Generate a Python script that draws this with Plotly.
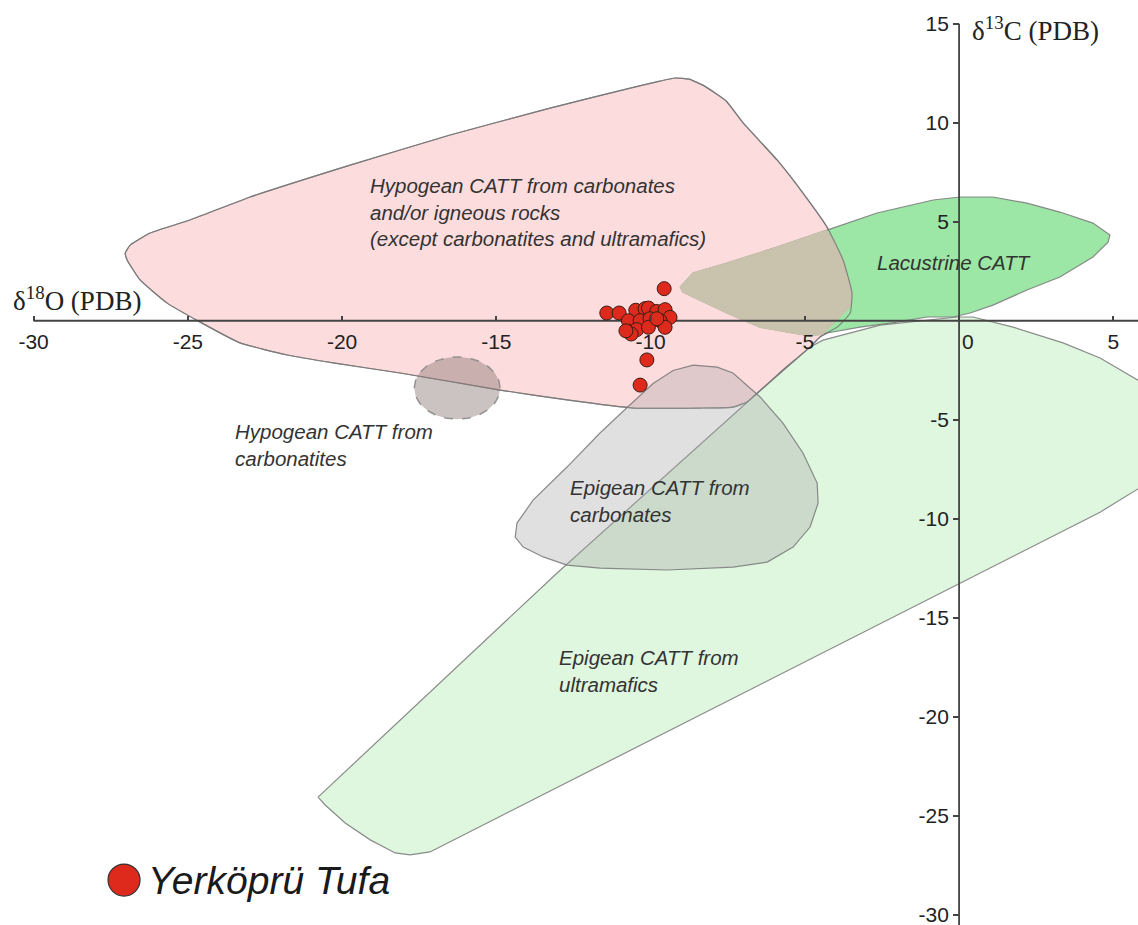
import numpy as np
import plotly.graph_objects as go

# ---------------------------------------------------------------------------
# Data: δ18O / δ13C (‰ PDB)
# ---------------------------------------------------------------------------
tufa_d18O = [-9.56, -11.42, -11.02, -10.48, -10.18, -10.07, -9.80, -9.53, -9.37,
             -10.72, -10.34, -10.02, -9.69, -10.72, -10.45, -10.07, -9.53, -9.80,
             -10.63, -10.80, -10.12, -10.34]
tufa_d13C = [1.62, 0.39, 0.39, 0.53, 0.61, 0.64, 0.47, 0.56, 0.17,
             0.00, 0.00, 0.10, 0.00, -0.54, -0.45, -0.33, -0.33, 0.10,
             -0.67, -0.51, -1.98, -3.25]

# Field boundaries (δ18O, δ13C)
hypogean_O = [-27.03, -26.87, -26.22, -24.93, -22.98, -19.74, -16.50, -13.26, -10.66,
              -9.70, -9.20, -8.75, -8.25, -7.55, -7.00, -5.90, -5.06, -4.28, -3.76, -3.47,
              -3.53, -3.95, -4.51, -4.83, -5.71, -6.68, -6.87, -7.33, -8.40, -10.57,
              -12.71, -14.88, -18.12, -20.29, -21.78, -23.31, -24.60, -25.67, -26.55,
              -26.97]
hypogean_C = [3.42, 3.82, 4.43, 5.09, 6.25, 7.86, 9.38, 10.74, 11.75,
              12.10, 12.26, 12.20, 11.85, 11.10, 9.99, 8.12, 6.45, 4.73, 3.07, 1.40,
              0.39, -0.32, -0.82, -1.33, -2.49, -3.85, -4.10, -4.36, -4.41, -4.41,
              -4.00, -3.50, -2.64, -2.13, -1.73, -1.12, -0.07, 0.89, 2.06,
              3.07]

lacustrine_O = [-9.04, -8.62, -7.52, -5.90, -4.28, -2.66, -0.84, 0.03, 1.10, 2.20,
                3.27, 4.34, 4.89, 4.83, 4.34, 3.27, 2.20, 1.10, 0.36, -0.19,
                -1.04, -2.01, -3.21, -4.28, -4.83, -5.38, -6.45, -7.52, -8.40, -8.95]
lacustrine_C = [1.70, 2.41, 2.91, 3.72, 4.58, 5.44, 6.10, 6.25, 6.25, 5.94,
                5.49, 4.93, 4.33, 3.97, 3.22, 2.21, 1.55, 0.79, 0.39, 0.19,
                0.19, -0.07, -0.32, -0.62, -0.77, -0.62, -0.32, 0.39, 1.05, 1.45]

ultramafic_O = [-20.78, -20.55, -19.90, -19.09, -18.28, -17.80, -17.15, -11.64, -5.15,
                0.00, 4.57, 6.52, 7.33, 7.00, 5.80, 4.57, 3.37, 1.75, 0.45, -0.06,
                -2.56, -4.41, -4.83, -6.68, -13.03]
ultramafic_C = [-24.06, -24.46, -25.37, -26.22, -26.88, -26.98, -26.83, -22.48, -17.38,
                -13.30, -9.67, -7.80, -5.52, -4.01, -3.00, -1.88, -1.12, -0.32, 0.19, 0.19,
                -0.22, -0.98, -1.33, -3.85, -12.74]

epigean_carb_O = [-8.62, -7.84, -7.33, -6.45, -5.71, -5.06, -4.60, -4.57, -4.83, -5.38,
                  -6.22, -7.33, -9.47, -11.64, -12.71, -13.48, -14.13, -14.39, -14.33,
                  -13.81, -12.71, -11.64, -10.76, -9.92, -9.27]
epigean_carb_C = [-2.24, -2.34, -2.64, -3.85, -5.17, -6.68, -8.20, -9.21, -10.42, -11.43,
                  -12.19, -12.44, -12.59, -12.49, -12.34, -11.93, -11.43, -10.93, -10.22,
                  -9.06, -7.39, -5.67, -4.38, -3.17, -2.51]

# Carbonatite field: centre and half-widths (δ18O, δ13C)
carbonatite_centre = [-16.27, -3.40]
carbonatite_radius = [1.39, 1.57]

x_ticks = [-30, -25, -20, -15, -10, -5, 0, 5]
x_ticktext = ["-30", "-25", "-20", "-15", "-10", "-5", "\u00a0\u00a0\u00a00", "5"]
y_ticks = [15, 10, 5, -5, -10, -15, -20, -25, -30]
y_ticktext = ["15", "10", "5", "-5", "-10", "-15", "-20", "-25", "-30"]

x_range = [-31.09, 5.80]
y_range = [-30.52, 16.20]

# ---------------------------------------------------------------------------
# Helpers
# ---------------------------------------------------------------------------
def signed_area(poly):
    s = 0.0
    for i in range(len(poly)):
        x0, y0 = poly[i]
        x1, y1 = poly[(i + 1) % len(poly)]
        s += x0 * y1 - x1 * y0
    return s / 2.0


def clip_polygon(subject, clipper):
    """Sutherland-Hodgman clipping of subject against clipper."""
    if signed_area(clipper) < 0:
        clipper = clipper[::-1]

    def inside(p, a, b):
        return (b[0] - a[0]) * (p[1] - a[1]) - (b[1] - a[1]) * (p[0] - a[0]) >= 0

    def cross_point(s, e, a, b):
        dx1, dy1 = e[0] - s[0], e[1] - s[1]
        dx2, dy2 = b[0] - a[0], b[1] - a[1]
        den = dx1 * dy2 - dy1 * dx2
        t = ((a[0] - s[0]) * dy2 - (a[1] - s[1]) * dx2) / den
        return (s[0] + t * dx1, s[1] + t * dy1)

    out = list(subject)
    for i in range(len(clipper)):
        a, b = clipper[i], clipper[(i + 1) % len(clipper)]
        inp, out = out, []
        if not inp:
            break
        s = inp[-1]
        for e in inp:
            if inside(e, a, b):
                if not inside(s, a, b):
                    out.append(cross_point(s, e, a, b))
                out.append(e)
            elif inside(s, a, b):
                out.append(cross_point(s, e, a, b))
            s = e
    return out


def closed(xs, ys):
    return list(xs) + [xs[0]], list(ys) + [ys[0]]


EDGE = "rgba(120,120,120,0.85)"
TEXT_FONT = dict(family="Liberation Sans, Arial, sans-serif", size=20.5, color="#333333")

fig = go.Figure()

# Hypogean field (carbonates / igneous rocks)
hx, hy = closed(hypogean_O, hypogean_C)
fig.add_trace(go.Scatter(x=hx, y=hy, mode="lines", fill="toself",
                         fillcolor="#fddcdd", line=dict(color=EDGE, width=1.2, shape="spline", smoothing=0.4),
                         hoverinfo="skip", showlegend=False))

# Epigean field (ultramafics)
ux, uy = closed(ultramafic_O, ultramafic_C)
fig.add_trace(go.Scatter(x=ux, y=uy, mode="lines", fill="toself",
                         fillcolor="#dff6df", line=dict(color=EDGE, width=1.2),
                         hoverinfo="skip", showlegend=False))

# Lacustrine field
lx, ly = closed(lacustrine_O, lacustrine_C)
fig.add_trace(go.Scatter(x=lx, y=ly, mode="lines", fill="toself",
                         fillcolor="#9ce6a6", line=dict(color=EDGE, width=1.2),
                         hoverinfo="skip", showlegend=False))

# Overlap of lacustrine and hypogean fields
overlap = clip_polygon(list(zip(lacustrine_O, lacustrine_C)),
                       list(zip(hypogean_O, hypogean_C)))
if overlap:
    ox, oy = closed([p[0] for p in overlap], [p[1] for p in overlap])
    fig.add_trace(go.Scatter(x=ox, y=oy, mode="lines", fill="toself",
                             fillcolor="#c9c2ad", line=dict(color="#c9c2ad", width=1.5),
                             hoverinfo="skip", showlegend=False))

# Hypogean outline redrawn over the overlap
fig.add_trace(go.Scatter(x=hx, y=hy, mode="lines",
                         line=dict(color=EDGE, width=1.2, shape="spline", smoothing=0.4),
                         hoverinfo="skip", showlegend=False))

# Epigean field (carbonates), translucent
ex, ey = closed(epigean_carb_O, epigean_carb_C)
fig.add_trace(go.Scatter(x=ex, y=ey, mode="lines", fill="toself",
                         fillcolor="rgba(165,165,165,0.35)",
                         line=dict(color=EDGE, width=1.2),
                         hoverinfo="skip", showlegend=False))

# Carbonatite field (ellipse)
t = np.linspace(0, 2 * np.pi, 120)
cx = carbonatite_centre[0] + carbonatite_radius[0] * np.cos(t)
cy = carbonatite_centre[1] + carbonatite_radius[1] * np.sin(t)
fig.add_trace(go.Scatter(x=cx, y=cy, mode="lines", fill="toself",
                         fillcolor="rgba(140,120,120,0.45)",
                         line=dict(color="rgba(140,140,140,0.9)", width=1.5, dash="dash"),
                         hoverinfo="skip", showlegend=False))

# Axis lines crossing at the origin
fig.add_trace(go.Scatter(x=[min(x_ticks), x_range[1] + 1], y=[0, 0], mode="lines",
                         line=dict(color="#444444", width=1.8),
                         hoverinfo="skip", showlegend=False))
fig.add_trace(go.Scatter(x=[0, 0], y=[max(y_ticks), y_range[0] - 1], mode="lines",
                         line=dict(color="#444444", width=1.8),
                         hoverinfo="skip", showlegend=False))

# Yerköprü tufa samples
fig.add_trace(go.Scatter(x=tufa_d18O, y=tufa_d13C, mode="markers",
                         marker=dict(size=14, color="#de2a1c",
                                     line=dict(color="#3a1c14", width=1)),
                         name="Yerköprü Tufa", showlegend=False))

# Field labels
labels = [
    (-19.16, 5.49, "Hypogean CATT from carbonates<br>and/or igneous rocks<br>(except carbonatites and ultramafics)"),
    (-2.72, 2.96, "Lacustrine CATT"),
    (-23.53, -6.30, "Hypogean CATT from<br>carbonatites"),
    (-12.68, -9.08, "Epigean CATT from<br>carbonates"),
    (-13.03, -17.69, "Epigean CATT from<br>ultramafics"),
]
for lx_, ly_, txt in labels:
    fig.add_annotation(x=lx_, y=ly_, xref="x", yref="y", text="<i>" + txt + "</i>",
                       showarrow=False, xanchor="left", yanchor="middle",
                       align="left", font=TEXT_FONT)

# Axis titles
TITLE_FONT = dict(family="Liberation Serif, Times New Roman, serif", size=27, color="#222222")
fig.add_annotation(x=-30.72, y=1.08, xref="x", yref="y", text="δ<sup>18</sup>O (PDB)",
                   showarrow=False, xanchor="left", yanchor="middle", font=TITLE_FONT)
fig.add_annotation(x=0.36, y=14.73, xref="x", yref="y", text="δ<sup>13</sup>C (PDB)",
                   showarrow=False, xanchor="left", yanchor="middle", font=TITLE_FONT)

# Legend key
fig.add_shape(type="circle", xref="paper", yref="paper", xsizemode="pixel",
              ysizemode="pixel", xanchor=0.109, yanchor=0.0486,
              x0=-16, x1=16, y0=-16, y1=16,
              fillcolor="#de2a1c", line=dict(color="#333333", width=1.2))
fig.add_annotation(x=0.128, y=0.0486, xref="paper", yref="paper",
                   text="<i>Yerköprü Tufa</i>", showarrow=False,
                   xanchor="left", yanchor="middle",
                   font=dict(family="Liberation Sans, Arial, sans-serif", size=39,
                             color="#1a1a1a"))

TICK_FONT = dict(family="Liberation Sans, Arial, sans-serif", size=21, color="#222222")
fig.update_layout(
    width=1138, height=925, autosize=False,
    margin=dict(l=0, r=0, t=0, b=0),
    paper_bgcolor="white", plot_bgcolor="white",
    xaxis=dict(range=x_range, anchor="free",
               position=(0 - y_range[0]) / (y_range[1] - y_range[0]),
               tickvals=x_ticks, ticktext=x_ticktext, ticks="inside", ticklen=5,
               tickwidth=1.5, tickcolor="#444444", tickfont=TICK_FONT,
               ticklabelstandoff=6, ticklabeloverflow="allow",
               showgrid=False, zeroline=False, showline=False, fixedrange=True),
    yaxis=dict(range=y_range, anchor="free",
               position=(0 - x_range[0]) / (x_range[1] - x_range[0]),
               tickvals=y_ticks, ticktext=y_ticktext, ticks="outside", ticklen=6,
               tickwidth=1.5, tickcolor="#444444", tickfont=TICK_FONT,
               ticklabeloverflow="allow",
               showgrid=False, zeroline=False, showline=False, fixedrange=True),
)

fig.write_html("out.html")
